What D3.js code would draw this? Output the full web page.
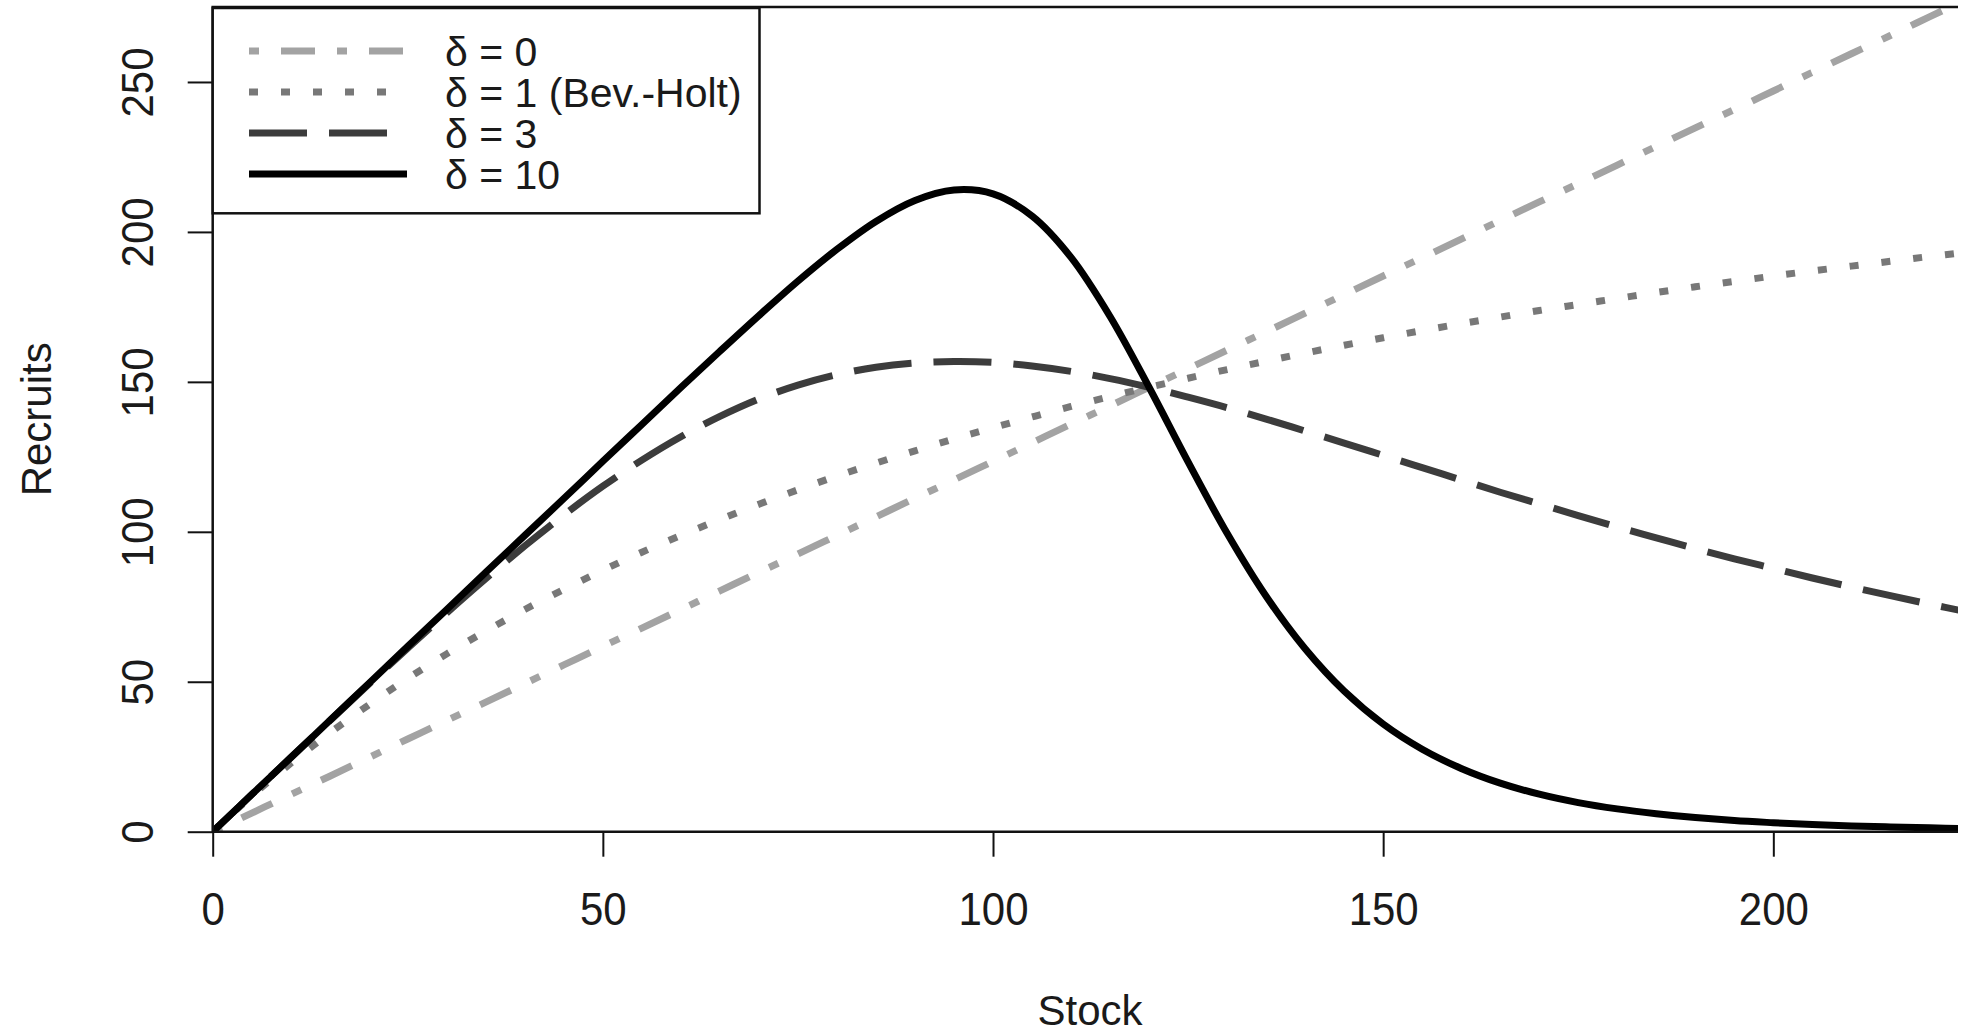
<!DOCTYPE html>
<html>
<head>
<meta charset="utf-8">
<script src="https://cdn.jsdelivr.net/npm/d3@7"></script>
<style>
  html, body { margin: 0; padding: 0; background: #fff; }
  svg { display: block; }
  text { font-family: "Liberation Sans", Arial, Helvetica, sans-serif; fill: #1a1a1a; }
</style>
</head>
<body>
<script>
// ---- data ----
const stock = [0,5,10,15,20,25,30,35,40,45,50,55,60,65,70,75,80,85,90,95,100,105,110,115,120,125,130,135,140,145,150,155,160,165,170,175,180,185,190,195,200,205,210,215,220,225];
const recruitsD0 = [0,6.2,12.4,18.5,24.7,30.9,37.1,43.2,49.4,55.6,61.8,67.9,74.1,80.3,86.5,92.6,98.8,105.0,111.2,117.3,123.5,129.7,135.9,142.0,148.2,154.4,160.6,166.7,172.9,179.1,185.3,191.4,197.6,203.8,210.0,216.1,222.3,228.5,234.7,240.8,247.0,253.2,259.4,265.5,271.7,277.9];
const recruitsD1 = [0,11.9,22.8,32.9,42.3,51.1,59.3,66.9,74.1,80.8,87.2,93.2,98.8,104.1,109.2,114.0,118.6,122.9,127.0,131.0,134.7,138.3,141.8,145.1,148.2,151.2,154.1,156.9,159.6,162.2,164.7,167.1,169.4,171.6,173.8,175.8,177.8,179.8,181.7,183.5,185.3,187.0,188.6,190.2,191.8,193.3];
const recruitsD3 = [0,12.4,24.7,37.0,49.2,61.2,73.0,84.4,95.3,105.6,115.2,123.9,131.7,138.5,144.3,148.9,152.4,154.9,156.3,156.8,156.5,155.3,153.5,151.1,148.2,144.9,141.4,137.6,133.6,129.6,125.5,121.4,117.3,113.2,109.3,105.4,101.6,98.0,94.4,91.0,87.8,84.6,81.6,78.7,75.9,73.2];
const recruitsD10 = [0,12.4,24.7,37.1,49.4,61.8,74.1,86.5,98.8,111.1,123.5,135.8,148.1,160.2,172.1,183.6,194.2,203.5,210.5,214.0,212.7,205.3,191.5,171.8,148.2,123.3,99.5,78.5,61.0,46.9,35.9,27.5,21.1,16.2,12.5,9.7,7.6,6.0,4.7,3.7,3.0,2.4,1.9,1.6,1.3,1.0];
const seriesLabels = ["δ = 0", "δ = 1 (Bev.-Holt)", "δ = 3", "δ = 10"];
const xTicks = [0, 50, 100, 150, 200];
const yTicks = [0, 50, 100, 150, 200, 250];
const xLabel = "Stock";
const yLabel = "Recruits";

// ---- styles ----
const seriesStyles = [
  { color: "#a3a3a3", dash: "10,22,34,22" },
  { color: "#787878", dash: "9,23" },
  { color: "#3c3c3c", dash: "58,22" },
  { color: "#000000", dash: null }
];
const seriesValues = [recruitsD0, recruitsD1, recruitsD3, recruitsD10];

const W = 1962, H = 1033;
const plotLeft = 212.7, plotTop = 7, plotBottom = 831.7, plotRightVisible = 1958;

const svg = d3.select("body").append("svg").attr("width", W).attr("height", H);

const x = d3.scaleLinear().domain([0, 225]).range([plotLeft, 1968.4]);
const y = d3.scaleLinear().domain([0, 275]).range([plotBottom, plotTop]);

svg.append("defs").append("clipPath").attr("id", "plotClip")
  .append("rect").attr("x", plotLeft).attr("y", plotTop)
  .attr("width", plotRightVisible - plotLeft).attr("height", plotBottom - plotTop);

// curves
const line = d3.line()
  .x(d => x(d[0])).y(d => y(d[1]))
  .curve(d3.curveCatmullRom.alpha(0.5));

const curves = svg.append("g").attr("clip-path", "url(#plotClip)");
seriesValues.forEach((vals, i) => {
  const pts = stock.map((s, k) => [s, vals[k]]);
  curves.append("path")
    .attr("d", line(pts))
    .attr("fill", "none")
    .attr("stroke", seriesStyles[i].color)
    .attr("stroke-width", 7)
    .attr("stroke-linejoin", "round")
    .attr("stroke-dasharray", seriesStyles[i].dash);
});

// box (left, top, bottom)
svg.append("path")
  .attr("d", `M${plotRightVisible},${plotTop} H${plotLeft} V${plotBottom} H${plotRightVisible}`)
  .attr("fill", "none").attr("stroke", "#111").attr("stroke-width", 2.5);

// x axis
const xAxis = svg.append("g").attr("transform", `translate(0,${plotBottom})`)
  .call(d3.axisBottom(x).tickValues(xTicks).tickSize(25).tickFormat(d3.format("d")));
xAxis.select(".domain").remove();
xAxis.selectAll(".tick line").attr("stroke", "#111").attr("stroke-width", 2);
xAxis.selectAll(".tick text")
  .attr("y", 0).attr("dy", 0)
  .attr("transform", "translate(0,93) scale(1,1.1)")
  .style("font-size", "42px").style("fill", "#1a1a1a");

// y axis
const yAxis = svg.append("g").attr("transform", `translate(${plotLeft},0)`)
  .call(d3.axisLeft(y).tickValues(yTicks).tickSize(25).tickFormat(d3.format("d")));
yAxis.select(".domain").remove();
yAxis.selectAll(".tick line").attr("stroke", "#111").attr("stroke-width", 2);
yAxis.selectAll(".tick text")
  .attr("x", 0).attr("y", 0).attr("dy", 0)
  .attr("text-anchor", "middle")
  .attr("transform", "translate(-59.5,0) rotate(-90) scale(1,1.04)")
  .style("font-size", "42px").style("fill", "#1a1a1a");

// axis titles
svg.append("text")
  .attr("x", 1090).attr("y", 1025)
  .attr("text-anchor", "middle")
  .style("font-size", "42px")
  .text(xLabel);

svg.append("text")
  .attr("transform", `translate(51,${(plotTop + plotBottom) / 2}) rotate(-90)`)
  .attr("text-anchor", "middle")
  .style("font-size", "42px")
  .text(yLabel);

// legend
const legend = svg.append("g");
legend.append("rect")
  .attr("x", plotLeft).attr("y", 8)
  .attr("width", 759.5 - plotLeft).attr("height", 213.3 - 8)
  .attr("fill", "#fff").attr("stroke", "#111").attr("stroke-width", 2.5);

const rowY = d3.scaleLinear().domain([0, 3]).range([51, 174]);
seriesLabels.forEach((lab, i) => {
  const yy = rowY(i);
  legend.append("line")
    .attr("x1", 249).attr("x2", 407)
    .attr("y1", yy).attr("y2", yy)
    .attr("stroke", seriesStyles[i].color)
    .attr("stroke-width", 7)
    .attr("stroke-dasharray", seriesStyles[i].dash);
  legend.append("text")
    .attr("x", 445).attr("y", yy + 15)
    .style("font-size", "41px")
    .text(lab);
});
</script>
</body>
</html>
